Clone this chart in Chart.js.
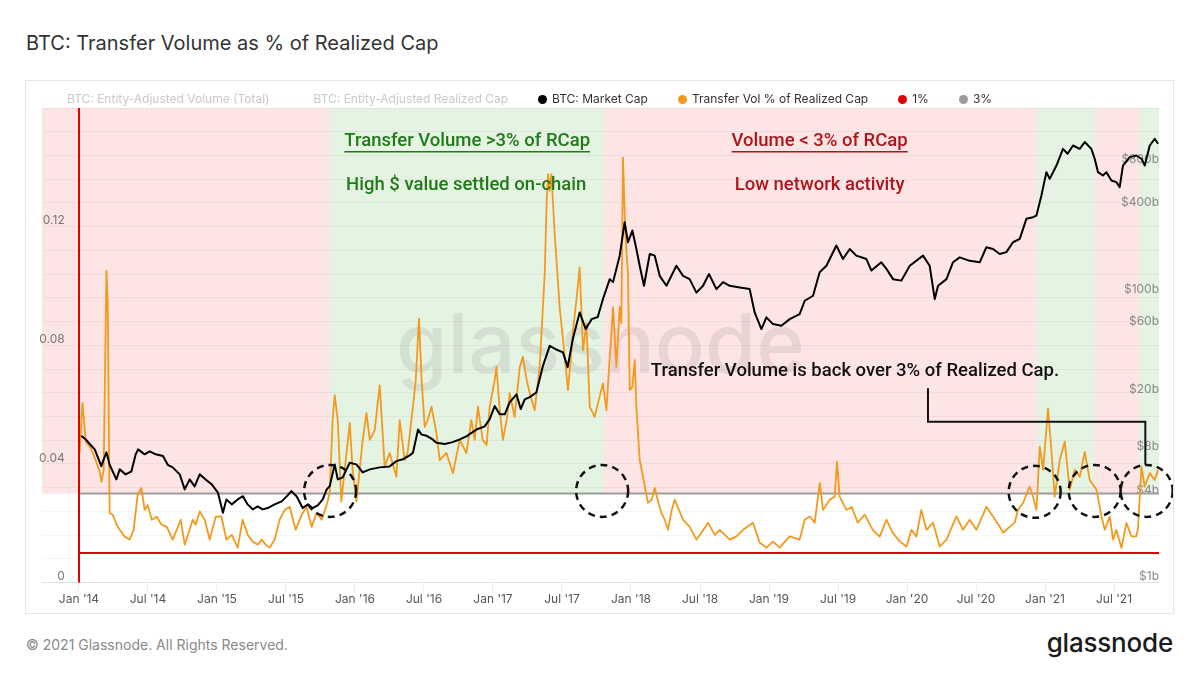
<!DOCTYPE html>
<html>
<head>
<meta charset="utf-8">
<title>BTC: Transfer Volume as % of Realized Cap</title>
<script src="https://cdn.jsdelivr.net/npm/chart.js@4.4.1/dist/chart.umd.min.js"></script>
<style>
  html, body { margin: 0; padding: 0; background: #fff; }
  body { width: 1199px; height: 675px; position: relative; overflow: hidden; font-family: Inter, "Noto Sans", sans-serif; }
  #title { position: absolute; left: 26px; top: 30px; font-size: 20px; line-height: 26px; color: #333; }
  #card { position: absolute; left: 25px; top: 80px; width: 1147px; height: 532px; border: 1px solid #e5e5e5; }
  #wrap { position: absolute; left: 0; top: 0; width: 1147px; height: 532px; }
  #legend { position: absolute; left: 27px; top: 11px; display: flex; gap: 30px; font-size: 12px; line-height: 14px; color: #333; white-space: nowrap; }
  #legend .item { display: flex; align-items: center; }
  #legend i { display: inline-block; width: 9px; height: 9px; border-radius: 50%; margin-right: 5px; }
  #legend .off { color: #c9c9c9; }
  #footer { position: absolute; left: 26px; top: 636px; font-size: 14px; line-height: 18px; color: #888; }
  #logo { position: absolute; right: 26px; top: 627px; font-size: 26px; line-height: 32px; font-weight: 500; color: #1b1b1b; letter-spacing: -0.2px; }
</style>
</head>
<body>
<div id="title">BTC: Transfer Volume as % of Realized Cap</div>
<div id="card">
  <div id="wrap"><canvas id="chart"></canvas></div>
  <div id="legend"></div>
</div>
<div id="footer">© 2021 Glassnode. All Rights Reserved.</div>
<div id="logo">glassnode</div>

<script>
// x values are decimal years (2014.5 = start of July 2014)
const xStart = 2013.732;
const xEnd = 2021.826;

const xTickValues = [2014, 2014.5, 2015, 2015.5, 2016, 2016.5, 2017, 2017.5,
  2018, 2018.5, 2019, 2019.5, 2020, 2020.5, 2021, 2021.5];
const xTickLabels = ["Jan '14", "Jul '14", "Jan '15", "Jul '15", "Jan '16", "Jul '16", "Jan '17", "Jul '17",
  "Jan '18", "Jul '18", "Jan '19", "Jul '19", "Jan '20", "Jul '20", "Jan '21", "Jul '21"];
const leftTickLabels = [0, 0.04, 0.08, 0.12];
const rightTickValues = [1, 4, 8, 20, 60, 100, 400, 800]; // $ billions

// Transfer Vol % of Realized Cap
const volDates = [
  2014.005, 2014.025, 2014.049, 2014.085, 2014.121, 2014.150, 2014.162, 2014.179, 2014.199, 2014.208,
  2014.222, 2014.244, 2014.273, 2014.295, 2014.331, 2014.367, 2014.396, 2014.425, 2014.452, 2014.476,
  2014.498, 2014.527, 2014.563, 2014.599, 2014.636, 2014.679, 2014.708, 2014.737, 2014.766, 2014.802,
  2014.824, 2014.846, 2014.875, 2014.911, 2014.947, 2014.991, 2015.032, 2015.068, 2015.107, 2015.150,
  2015.186, 2015.223, 2015.259, 2015.295, 2015.324, 2015.353, 2015.382, 2015.418, 2015.454, 2015.491,
  2015.527, 2015.570, 2015.614, 2015.648, 2015.686, 2015.722, 2015.759, 2015.795, 2015.817, 2015.838,
  2015.853, 2015.875, 2015.901, 2015.933, 2015.962, 2015.983, 2016.010, 2016.034, 2016.056, 2016.083,
  2016.107, 2016.143, 2016.179, 2016.215, 2016.251, 2016.300, 2016.324, 2016.360, 2016.382, 2016.420,
  2016.440, 2016.464, 2016.483, 2016.505, 2016.527, 2016.554, 2016.590, 2016.614, 2016.662, 2016.710,
  2016.744, 2016.759, 2016.807, 2016.843, 2016.867, 2016.891, 2016.925, 2016.954, 2016.976, 2017.012,
  2017.025, 2017.049, 2017.072, 2017.099, 2017.121, 2017.157, 2017.194, 2017.217, 2017.244, 2017.266,
  2017.302, 2017.338, 2017.375, 2017.389, 2017.399, 2017.411, 2017.423, 2017.447, 2017.483, 2017.520,
  2017.543, 2017.563, 2017.578, 2017.604, 2017.628, 2017.652, 2017.677, 2017.701, 2017.737, 2017.761,
  2017.797, 2017.822, 2017.846, 2017.870, 2017.894, 2017.918, 2017.930, 2017.942, 2017.959, 2017.978,
  2017.991, 2018.010, 2018.027, 2018.039, 2018.063, 2018.087, 2018.123, 2018.150, 2018.172, 2018.193,
  2018.220, 2018.244, 2018.268, 2018.295, 2018.317, 2018.338, 2018.377, 2018.425, 2018.474, 2018.510,
  2018.558, 2018.607, 2018.643, 2018.715, 2018.764, 2018.812, 2018.884, 2018.933, 2018.981, 2019.029,
  2019.077, 2019.150, 2019.222, 2019.259, 2019.295, 2019.331, 2019.368, 2019.391, 2019.440, 2019.476,
  2019.493, 2019.512, 2019.561, 2019.599, 2019.643, 2019.694, 2019.752, 2019.802, 2019.851, 2019.896,
  2019.947, 2019.996, 2020.032, 2020.068, 2020.104, 2020.141, 2020.189, 2020.237, 2020.286, 2020.358,
  2020.406, 2020.454, 2020.503, 2020.576, 2020.623, 2020.672, 2020.696, 2020.744, 2020.780, 2020.804,
  2020.841, 2020.889, 2020.913, 2020.938, 2020.962, 2020.986, 2021.022, 2021.046, 2021.070, 2021.107,
  2021.143, 2021.179, 2021.215, 2021.252, 2021.288, 2021.324, 2021.373, 2021.409, 2021.433, 2021.469,
  2021.493, 2021.517, 2021.554, 2021.590, 2021.626, 2021.662, 2021.674, 2021.699, 2021.722, 2021.759,
  2021.795, 2021.819
];
const volValues = [
  0.0436, 0.0606, 0.0474, 0.0454, 0.0413, 0.0373, 0.0340, 0.0380, 0.1052, 0.0951,
  0.0235, 0.0229, 0.0195, 0.0178, 0.0155, 0.0145, 0.0178, 0.0296, 0.0319, 0.0245,
  0.0262, 0.0212, 0.0222, 0.0195, 0.0188, 0.0145, 0.0178, 0.0212, 0.0128, 0.0178,
  0.0212, 0.0195, 0.0240, 0.0212, 0.0145, 0.0222, 0.0223, 0.0145, 0.0161, 0.0118,
  0.0212, 0.0161, 0.0138, 0.0128, 0.0145, 0.0128, 0.0118, 0.0145, 0.0212, 0.0245,
  0.0256, 0.0178, 0.0229, 0.0256, 0.0188, 0.0235, 0.0212, 0.0262, 0.0302, 0.0548,
  0.0632, 0.0548, 0.0273, 0.0413, 0.0538, 0.0380, 0.0273, 0.0380, 0.0481, 0.0571,
  0.0481, 0.0514, 0.0665, 0.0391, 0.0437, 0.0357, 0.0548, 0.0413, 0.0440, 0.0593,
  0.0682, 0.0890, 0.0682, 0.0525, 0.0548, 0.0593, 0.0504, 0.0413, 0.0437, 0.0369,
  0.0447, 0.0481, 0.0437, 0.0548, 0.0481, 0.0593, 0.0481, 0.0464, 0.0593, 0.0682,
  0.0727, 0.0581, 0.0481, 0.0548, 0.0639, 0.0559, 0.0727, 0.0761, 0.0682, 0.0639,
  0.0581, 0.0727, 0.1042, 0.1287, 0.1377, 0.1321, 0.1377, 0.1176, 0.0929, 0.0761,
  0.0649, 0.0750, 0.0840, 0.0951, 0.1063, 0.0783, 0.0874, 0.0593, 0.0559, 0.0605,
  0.0672, 0.0581, 0.0761, 0.0929, 0.0727, 0.0929, 0.0874, 0.1433, 0.1176, 0.1042,
  0.0649, 0.0660, 0.0750, 0.0593, 0.0413, 0.0357, 0.0269, 0.0279, 0.0319, 0.0279,
  0.0235, 0.0212, 0.0178, 0.0245, 0.0279, 0.0255, 0.0212, 0.0188, 0.0145, 0.0168,
  0.0202, 0.0161, 0.0178, 0.0145, 0.0156, 0.0178, 0.0202, 0.0134, 0.0118, 0.0138,
  0.0118, 0.0156, 0.0145, 0.0212, 0.0223, 0.0202, 0.0336, 0.0245, 0.0279, 0.0290,
  0.0408, 0.0290, 0.0245, 0.0255, 0.0202, 0.0229, 0.0178, 0.0155, 0.0212, 0.0168,
  0.0139, 0.0122, 0.0178, 0.0155, 0.0245, 0.0178, 0.0202, 0.0122, 0.0145, 0.0223,
  0.0178, 0.0212, 0.0178, 0.0256, 0.0223, 0.0188, 0.0168, 0.0188, 0.0202, 0.0245,
  0.0269, 0.0324, 0.0290, 0.0245, 0.0458, 0.0380, 0.0587, 0.0447, 0.0290, 0.0413,
  0.0475, 0.0313, 0.0380, 0.0357, 0.0441, 0.0346, 0.0313, 0.0223, 0.0178, 0.0223,
  0.0145, 0.0178, 0.0117, 0.0201, 0.0156, 0.0156, 0.0185, 0.0391, 0.0324, 0.0369,
  0.0346, 0.0380
];

// BTC: Market Cap, $ billions
const capDates = [
  2014.017, 2014.049, 2014.078, 2014.114, 2014.162, 2014.179, 2014.199, 2014.222, 2014.271, 2014.295,
  2014.338, 2014.380, 2014.411, 2014.428, 2014.476, 2014.512, 2014.556, 2014.609, 2014.643, 2014.679,
  2014.730, 2014.766, 2014.802, 2014.838, 2014.875, 2014.918, 2014.962, 2015.007, 2015.043, 2015.068,
  2015.107, 2015.150, 2015.188, 2015.222, 2015.259, 2015.295, 2015.331, 2015.367, 2015.418, 2015.469,
  2015.512, 2015.539, 2015.578, 2015.621, 2015.659, 2015.693, 2015.730, 2015.766, 2015.795, 2015.817,
  2015.853, 2015.875, 2015.911, 2015.962, 2016.010, 2016.056, 2016.107, 2016.179, 2016.251, 2016.300,
  2016.346, 2016.396, 2016.420, 2016.457, 2016.483, 2016.520, 2016.563, 2016.590, 2016.650, 2016.701,
  2016.759, 2016.807, 2016.880, 2016.940, 2016.976, 2017.012, 2017.049, 2017.085, 2017.121, 2017.170,
  2017.201, 2017.230, 2017.266, 2017.314, 2017.362, 2017.411, 2017.454, 2017.507, 2017.541, 2017.578,
  2017.628, 2017.672, 2017.715, 2017.759, 2017.797, 2017.846, 2017.870, 2017.918, 2017.954, 2017.978,
  2018.010, 2018.039, 2018.063, 2018.094, 2018.136, 2018.172, 2018.208, 2018.257, 2018.329, 2018.377,
  2018.425, 2018.474, 2018.522, 2018.565, 2018.619, 2018.667, 2018.715, 2018.788, 2018.860, 2018.896,
  2018.945, 2018.981, 2019.029, 2019.090, 2019.150, 2019.222, 2019.259, 2019.319, 2019.367, 2019.416,
  2019.488, 2019.536, 2019.585, 2019.633, 2019.706, 2019.742, 2019.814, 2019.851, 2019.899, 2019.959,
  2020.020, 2020.116, 2020.164, 2020.201, 2020.225, 2020.286, 2020.333, 2020.382, 2020.454, 2020.527,
  2020.575, 2020.623, 2020.672, 2020.720, 2020.768, 2020.817, 2020.865, 2020.913, 2020.938, 2020.974,
  2021.010, 2021.034, 2021.083, 2021.130, 2021.164, 2021.203, 2021.251, 2021.288, 2021.336, 2021.360,
  2021.384, 2021.420, 2021.445, 2021.481, 2021.517, 2021.541, 2021.565, 2021.614, 2021.662, 2021.699,
  2021.723, 2021.759, 2021.795, 2021.819
];
const capValues = [
  10.5, 9.9, 9.2, 8.45, 6.46, 7.2, 8.05, 6.6, 5.22, 6.13,
  5.66, 5.94, 7.8, 8.45, 7.8, 8.18, 7.8, 7.59, 6.6, 6.33,
  5.66, 4.45, 5.22, 4.67, 5.66, 5.22, 4.82, 4.22, 3.06, 3.79,
  3.5, 3.79, 3.99, 3.5, 3.23, 3.39, 3.23, 3.3, 3.5, 3.67,
  4.04, 4.33, 3.97, 3.3, 3.5, 3.3, 3.44, 3.79, 4.45, 4.69,
  6.64, 5.22, 5.39, 6.82, 6.64, 5.84, 6.13, 6.33, 6.43, 7.0,
  7.2, 7.67, 8.0, 11.6, 10.7, 10.5, 9.9, 9.4, 9.2, 9.45,
  9.9, 10.4, 11.6, 12.2, 13.7, 16.9, 14.8, 14.8, 17.9, 20.4,
  16.1, 18.8, 19.5, 21, 32.2, 44.3, 42, 39.9, 31.5, 49.3,
  75.7, 58, 68, 70.3, 93.8, 129, 123, 188, 321, 233,
  281, 209, 160, 116, 193, 188, 136, 116, 160, 136,
  129, 104, 116, 140, 110, 123, 116, 113, 110, 75.7,
  58, 70, 62.8, 61.1, 68, 73.7, 91.3, 98.9, 144, 160,
  221, 178, 209, 188, 178, 148, 169, 152, 129, 126,
  160, 188, 160, 93.8, 116, 129, 169, 183, 173, 169,
  215, 209, 193, 199, 233, 246, 339, 348, 357, 492,
  716, 643, 796, 1040, 961, 1097, 1040, 1159, 1040, 887,
  716, 678, 716, 626, 610, 563, 796, 911, 935, 887,
  796, 1097, 1222, 1128
];

// reference levels
const levelDates = [2014, 2021.826];
const onePct = 0.01;
const threePct = 0.03;

// periods with Transfer Volume > 3% of RCap
const greenStarts = [2015.817, 2020.942, 2021.681];
const greenEnds = [2017.802, 2021.360, 2021.826];

// annotations (dashed rings, callout, notes)
const ringDates = [2015.820, 2017.791, 2020.925, 2021.360, 2021.737];
const ringLevels = [0.0309, 0.0309, 0.0306, 0.0309, 0.0309];
const calloutDates = [2020.152, 2020.152, 2021.727, 2021.727];
const calloutLevels = [0.0655, 0.0542, 0.0542, 0.0397];

const notes = [
  { text: 'Transfer Volume >3% of RCap', x: 2016.813, y: 0.1486, color: '#1f7a17', underline: true },
  { text: 'High $ value settled on-chain', x: 2016.806, y: 0.1338, color: '#1f7a17' },
  { text: 'Volume < 3% of RCap', x: 2019.367, y: 0.1486, color: '#b0141c', underline: true },
  { text: 'Low network activity', x: 2019.367, y: 0.1338, color: '#b0141c' },
  { text: 'Transfer Volume is back over 3% of Realized Cap.', x: 2019.623, y: 0.0713, color: '#111' }
];

const toPoints = (xs, ys) => xs.map((d, i) => ({ x: d, y: Array.isArray(ys) ? ys[i] : ys }));

const xPx = (chart, v) => chart.scales.x.getPixelForValue(v);
const yPx = (chart, v) => chart.scales.y.getPixelForValue(v);

const bandsPlugin = {
  id: 'bands',
  beforeDraw(chart) {
    const { ctx, chartArea: a } = chart;
    const floor = yPx(chart, threePct);
    ctx.save();
    ctx.fillStyle = '#fde5e5';
    ctx.fillRect(a.left, a.top, a.right - a.left, floor - a.top);
    ctx.fillStyle = '#e5f3e3';
    greenStarts.forEach((s, i) => {
      const x0 = xPx(chart, s);
      const x1 = Math.min(xPx(chart, greenEnds[i]), a.right);
      ctx.fillRect(x0, a.top, x1 - x0, floor - a.top);
    });
    ctx.restore();
  },
  beforeDatasetsDraw(chart) {
    const { ctx, chartArea: a } = chart;
    ctx.save();
    ctx.font = '500 83px Inter';
    ctx.fillStyle = 'rgba(70,70,70,0.11)';
    ctx.textAlign = 'center';
    ctx.textBaseline = 'alphabetic';
    ctx.fillText('glassnode', (a.left + a.right) / 2, (a.top + a.bottom) / 2 + 28);
    ctx.restore();
  }
};

const notesPlugin = {
  id: 'notes',
  afterDatasetsDraw(chart) {
    const { ctx, chartArea: a } = chart;
    ctx.save();

    // red marker where the series start
    const sx = xPx(chart, levelDates[0]);
    ctx.strokeStyle = '#dd0000';
    ctx.lineWidth = 2;
    ctx.beginPath();
    ctx.moveTo(sx, a.top);
    ctx.lineTo(sx, a.bottom);
    ctx.stroke();

    // callout line
    ctx.strokeStyle = '#111';
    ctx.lineWidth = 2;
    ctx.beginPath();
    calloutDates.forEach((d, i) => {
      const px = xPx(chart, d), py = yPx(chart, calloutLevels[i]);
      if (i === 0) ctx.moveTo(px, py); else ctx.lineTo(px, py);
    });
    ctx.stroke();

    // dashed rings
    ctx.setLineDash([7, 5]);
    ctx.lineWidth = 2.5;
    ringDates.forEach((d, i) => {
      ctx.beginPath();
      ctx.arc(xPx(chart, d), yPx(chart, ringLevels[i]), 26, 0, Math.PI * 2);
      ctx.stroke();
    });
    ctx.setLineDash([]);

    // notes
    ctx.font = '500 18.5px Roboto';
    ctx.textAlign = 'center';
    ctx.textBaseline = 'middle';
    notes.forEach(n => {
      const px = xPx(chart, n.x), py = yPx(chart, n.y);
      ctx.fillStyle = n.color;
      ctx.fillText(n.text, px, py);
      if (n.underline) {
        const w = ctx.measureText(n.text).width;
        ctx.strokeStyle = n.color;
        ctx.lineWidth = 1.5;
        ctx.beginPath();
        ctx.moveTo(px - w / 2, py + 10);
        ctx.lineTo(px + w / 2, py + 10);
        ctx.stroke();
      }
    });
    ctx.restore();
  }
};

function draw() {
  Chart.defaults.font.family = 'Inter';
  Chart.defaults.font.size = 12;

  const lineStyle = { pointRadius: 0, borderWidth: 2, tension: 0, fill: false, borderJoinStyle: 'round' };

  const chart = new Chart(document.getElementById('chart'), {
    type: 'line',
    data: {
      datasets: [
        { label: 'BTC: Entity-Adjusted Volume (Total)', data: [], hidden: true, borderColor: '#c9c9c9' },
        { label: 'BTC: Entity-Adjusted Realized Cap', data: [], hidden: true, borderColor: '#c9c9c9' },
        { ...lineStyle, label: 'BTC: Market Cap', data: toPoints(capDates, capValues), yAxisID: 'y1', borderColor: '#000' },
        { ...lineStyle, label: 'Transfer Vol % of Realized Cap', data: toPoints(volDates, volValues), yAxisID: 'y', borderColor: '#f39a1e', borderWidth: 1.8 },
        { ...lineStyle, label: '1%', data: toPoints(levelDates, onePct), yAxisID: 'y', borderColor: '#dd0000' },
        { ...lineStyle, label: '3%', data: toPoints(levelDates, threePct), yAxisID: 'y', borderColor: '#9b9b9b' }
      ]
    },
    options: {
      responsive: true,
      maintainAspectRatio: false,
      animation: false,
      events: [],
      layout: { autoPadding: false, padding: { left: 16, top: 27, right: 14, bottom: 6 } },
      plugins: { legend: { display: false }, tooltip: { enabled: false } },
      scales: {
        x: {
          type: 'linear',
          min: xStart,
          max: xEnd,
          afterBuildTicks: s => { s.ticks = xTickValues.map(v => ({ value: v })); },
          ticks: {
            autoSkip: false, maxRotation: 0, padding: 0, color: '#555',
            callback: (v, i) => xTickLabels[i]
          },
          grid: { drawOnChartArea: false, tickLength: 10, color: '#ececec' },
          border: { color: '#e2e2e2' }
        },
        y: {
          position: 'left',
          min: 0,
          max: 0.16,
          afterFit: s => { s.width = 0; },
          ticks: {
            stepSize: 0.008, mirror: true, crossAlign: 'far', padding: -3, labelOffset: -6, color: '#777',
            callback: v => {
              const hit = leftTickLabels.find(t => Math.abs(t - v) < 1e-6);
              if (hit === undefined) return '';
              return hit === 0 ? '0' : hit.toFixed(2);
            }
          },
          grid: { color: 'rgba(0,0,0,0.045)', drawTicks: false },
          border: { display: false }
        },
        y1: {
          type: 'logarithmic',
          position: 'right',
          min: 1,
          max: 2000,
          afterFit: s => { s.width = 0; },
          afterBuildTicks: s => { s.ticks = rightTickValues.map(v => ({ value: v })); },
          ticks: { mirror: true, padding: 0, labelOffset: -6, color: '#888', callback: v => '$' + v + 'b' },
          grid: { display: false, drawTicks: false },
          border: { display: false }
        }
      }
    },
    plugins: [bandsPlugin, notesPlugin]
  });

  // legend in the glassnode style, built from the datasets
  const legend = document.getElementById('legend');
  chart.data.datasets.forEach(ds => {
    const item = document.createElement('span');
    item.className = 'item' + (ds.hidden ? ' off' : '');
    const dot = document.createElement('i');
    dot.style.background = ds.hidden ? 'transparent' : ds.borderColor;
    item.appendChild(dot);
    item.appendChild(document.createTextNode(ds.label));
    legend.appendChild(item);
  });
}

Promise.all([
  document.fonts.load('500 83px Inter'),
  document.fonts.load('12px Inter'),
  document.fonts.load('500 18.5px Roboto')
]).then(draw, draw);
</script>
</body>
</html>
